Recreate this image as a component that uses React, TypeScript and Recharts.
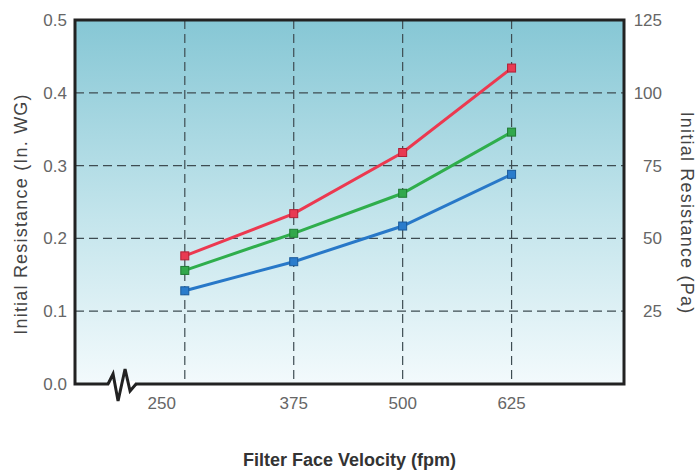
import {
  CartesianGrid,
  Line,
  LineChart,
  ReferenceArea,
  ReferenceDot,
  XAxis,
  YAxis,
} from 'recharts';

// filter face velocity (fpm)
const velocities = [250, 375, 500, 625];
// initial resistance (in. WG) per product line
const redSeries = [0.176, 0.234, 0.318, 0.434];
const greenSeries = [0.156, 0.207, 0.262, 0.346];
const blueSeries = [0.128, 0.168, 0.217, 0.288];

const leftTicks = [0, 0.1, 0.2, 0.3, 0.4, 0.5];
const rightTicks = [25, 50, 75, 100, 125];

const chartData = velocities.map((v, i) => ({
  v,
  red: redSeries[i],
  green: greenSeries[i],
  blue: blueSeries[i],
}));

const font = '"Liberation Sans", Arial, sans-serif';

function SquareDot(color: string, edge: string) {
  return (props: any) => {
    const { cx, cy } = props;
    if (cx == null || cy == null) return null;
    return (
      <rect
        key={`${color}-${cx}`}
        x={cx - 4}
        y={cy - 4}
        width={8}
        height={8}
        fill={color}
        stroke={edge}
        strokeWidth={1}
      />
    );
  };
}

function XTick({ x, y, payload }: any) {
  const dx = payload.value === 250 ? -23 : 0;
  return (
    <text x={x + dx} y={y} dy="0.85em" textAnchor="middle" fill="#666" fontSize={17} fontFamily={font}>
      {payload.value}
    </text>
  );
}

function RightTick({ x, y, payload }: any) {
  return (
    <text x={x + 38} y={y} dy="0.35em" textAnchor="end" fill="#666" fontSize={17} fontFamily={font}>
      {payload.value}
    </text>
  );
}

function AxisBreak(props: any) {
  const { cx, cy } = props;
  const pts = [
    [-14, 0],
    [-9, -10],
    [-4, 17],
    [3, -15],
    [8, 7],
    [14, 0],
  ]
    .map(([dx, dy]) => `${cx + dx},${cy + dy}`)
    .join(' ');
  return (
    <g>
      <rect x={cx - 13} y={cy - 3} width={26} height={6} fill="#ffffff" />
      <polyline points={pts} fill="none" stroke="#222" strokeWidth={3} strokeLinejoin="miter" />
    </g>
  );
}

export default function App() {
  return (
    <div style={{ position: 'absolute', left: 0, top: 0, background: '#fff' }}>
      <LineChart
        width={696}
        height={472}
        data={chartData}
        margin={{ top: 20, right: 0, left: 0, bottom: 0 }}
      >
        <defs>
          <linearGradient id="bg" x1="0" y1="0" x2="0" y2="1">
            <stop offset="0%" stopColor="#86c7d5" />
            <stop offset="55%" stopColor="#c4e5ec" />
            <stop offset="100%" stopColor="#f3fafc" />
          </linearGradient>
        </defs>
        <CartesianGrid
          yAxisId="left"
          fill="url(#bg)"
          fillOpacity={1}
          stroke="#3e4c52"
          strokeWidth={1.2}
          strokeDasharray="9 5"
        />
        <XAxis
          dataKey="v"
          type="number"
          domain={[124, 754]}
          ticks={velocities}
          allowDataOverflow
          height={88}
          axisLine={false}
          tickLine={false}
          tickSize={0}
          tickMargin={11}
          tick={<XTick />}
          label={{
            value: 'Filter Face Velocity (fpm)',
            position: 'insideBottom',
            offset: 6,
            fill: '#333',
            fontSize: 18,
            fontWeight: 'bold',
            fontFamily: '"Liberation Sans Narrow", "Liberation Sans", Arial, sans-serif',
          }}
        />
        <YAxis
          yAxisId="left"
          domain={[0, 0.5]}
          ticks={leftTicks}
          width={75}
          axisLine={false}
          tickLine={false}
          tickSize={0}
          tickMargin={8}
          tickFormatter={(t: number) => t.toFixed(1)}
          tick={{ fill: '#666', fontSize: 17, fontFamily: font }}
          label={{
            value: 'Initial Resistance (In. WG)',
            angle: -90,
            position: 'center',
            dx: -17,
            dy: 12,
            fill: '#444',
            fontSize: 18,
            letterSpacing: 1.2,
            fontFamily: font,
          }}
        />
        <YAxis
          yAxisId="right"
          orientation="right"
          domain={[0, 125]}
          ticks={rightTicks}
          allowDataOverflow
          width={72}
          axisLine={false}
          tickLine={false}
          tickSize={0}
          tickMargin={0}
          tick={<RightTick />}
          label={{
            value: 'Initial Resistance (Pa)',
            angle: 90,
            position: 'center',
            dx: 27,
            dy: 11,
            fill: '#444',
            fontSize: 18,
            letterSpacing: 1.2,
            fontFamily: font,
          }}
        />
        <ReferenceArea
          yAxisId="left"
          x1={124}
          x2={754}
          y1={0}
          y2={0.5}
          fill="none"
          fillOpacity={0}
          stroke="#222"
          strokeWidth={3}
          ifOverflow="visible"
        />
        <Line
          yAxisId="left"
          dataKey="blue"
          stroke="#2878c8"
          strokeWidth={3}
          dot={SquareDot('#2a7ccc', '#1a5a9a')}
          activeDot={false}
          isAnimationActive={false}
        />
        <Line
          yAxisId="left"
          dataKey="green"
          stroke="#2fae4c"
          strokeWidth={3}
          dot={SquareDot('#32a84c', '#1f7a34')}
          activeDot={false}
          isAnimationActive={false}
        />
        <Line
          yAxisId="left"
          dataKey="red"
          stroke="#ec3950"
          strokeWidth={3}
          dot={SquareDot('#e83a52', '#b02036')}
          activeDot={false}
          isAnimationActive={false}
        />
        <ReferenceDot
          yAxisId="left"
          x={178}
          y={0}
          r={0}
          ifOverflow="visible"
          shape={<AxisBreak />}
        />
      </LineChart>
    </div>
  );
}
